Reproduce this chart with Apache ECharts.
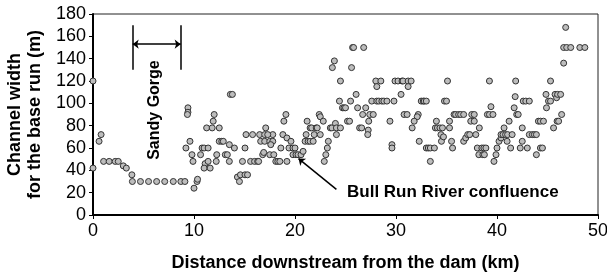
<!DOCTYPE html>
<html>
<head>
<meta charset="utf-8">
<script src="https://cdn.jsdelivr.net/npm/echarts@6/dist/echarts.min.js"></script>
<style>
  html, body { margin: 0; padding: 0; background: #fff; }
  #chart { width: 607px; height: 276px; }
</style>
</head>
<body>
<div id="chart"></div>
<script>
// Channel width for the base run (m) against distance below the dam (km),
// read off the figure reach by reach: [km, m]
const reach0to10 = [
    [0, 120], [0, 42], [0.6, 66], [0.8, 72], [1.05, 48], [1.6, 48], [2.2, 48],
    [2.5, 48], [3.0, 44], [3.3, 42], [3.85, 36], [3.9, 30], [4.7, 30], [5.5, 30],
    [6.3, 30], [7.1, 30], [7.95, 30], [8.7, 30], [9.1, 30], [9.4, 96], [9.4, 92],
    [9.35, 90], [9.2, 60], [9.6, 66], [9.8, 54], [9.9, 48]
];
const reach10to20 = [
    [10.0, 24], [10.3, 30], [10.35, 32], [10.65, 54], [10.8, 60], [11.0, 60],
    [11.4, 60], [11.1, 46], [11.4, 48], [11.0, 42], [11.6, 42], [11.25, 78],
    [11.8, 78], [12.0, 90], [11.9, 84], [12.5, 78], [12.25, 54], [12.2, 48],
    [12.5, 66], [12.75, 66], [12.9, 66], [13.1, 54], [13.3, 54], [13.5, 48],
    [13.5, 63], [14.0, 60], [13.6, 108], [13.8, 108], [14.3, 34], [14.5, 30],
    [14.6, 36], [15.05, 36], [15.3, 36], [14.8, 48], [15.05, 60], [15.15, 72],
    [15.8, 72], [16.5, 72], [17.0, 72], [17.8, 72], [15.6, 48], [16.0, 48],
    [16.3, 48], [16.4, 48], [16.6, 66], [17.0, 66], [17.5, 66], [17.8, 66],
    [17.1, 78], [17.3, 72], [16.8, 54], [16.9, 56], [17.5, 54], [17.9, 54],
    [17.6, 63], [18.1, 48], [18.3, 48], [18.5, 48], [18.6, 60], [18.8, 72],
    [18.9, 84], [19.1, 90], [19.2, 69], [19.6, 66], [19.2, 48], [19.4, 60],
    [19.8, 60], [19.8, 54]
];
const reach20to30 = [
    [20.1, 54], [20.3, 54], [20.6, 54], [20.8, 57], [20.0, 60], [21.0, 66],
    [21.3, 66], [21.5, 66], [21.8, 66], [21.1, 72], [21.9, 72], [21.2, 84],
    [21.5, 78], [21.65, 78], [22.1, 78], [22.2, 78], [22.5, 72], [22.4, 90],
    [22.5, 88], [22.8, 84], [22.9, 48], [23.05, 54], [23.2, 60], [23.3, 66],
    [23.5, 78], [23.65, 78], [24.0, 82], [24.1, 78], [24.1, 72], [23.7, 132],
    [23.9, 138], [24.5, 120], [24.4, 102], [24.7, 96], [24.85, 96], [25.0, 96],
    [25.2, 84], [25.4, 84], [25.7, 150], [25.8, 150], [26.8, 150], [25.6, 132],
    [24.5, 78], [25.5, 102], [26.05, 108], [26.2, 96], [26.7, 90], [27.0, 96],
    [26.4, 78], [26.6, 78], [27.4, 90], [27.75, 90], [27.3, 84], [27.25, 76],
    [27.2, 72], [28.0, 120], [28.5, 120], [28.1, 115], [27.6, 102], [28.1, 102],
    [28.3, 102], [28.6, 102], [28.8, 102], [29.1, 102], [29.8, 102], [29.4, 84],
    [29.6, 63], [29.6, 60], [29.9, 120]
];
const reach30to40 = [
    [30.2, 120], [30.6, 120], [30.7, 120], [31.2, 120], [31.5, 120], [30.5, 108],
    [31.2, 115], [30.8, 90], [31.1, 90], [32.2, 90], [32.1, 88], [31.8, 84],
    [31.6, 78], [32.3, 66], [32.5, 102], [32.7, 102], [32.8, 102], [33.0, 102],
    [33.0, 60], [33.2, 60], [33.4, 60], [33.8, 60], [33.4, 48], [34.0, 84],
    [33.9, 78], [34.1, 78], [34.35, 78], [34.6, 78], [34.45, 72], [34.5, 66],
    [34.7, 70], [34.8, 102], [35.0, 102], [35.1, 120], [35.3, 84], [35.3, 78],
    [35.5, 66], [35.6, 60], [35.75, 90], [35.9, 90], [36.2, 90], [36.4, 90],
    [36.7, 90], [36.7, 66], [36.9, 69], [37.1, 72], [37.5, 90], [37.75, 90],
    [37.4, 84], [37.75, 84], [37.3, 72], [37.9, 72], [38.25, 78], [38.05, 60],
    [38.2, 54], [38.5, 60], [38.7, 60], [38.9, 60], [38.6, 54], [38.75, 54],
    [39.25, 120], [39.4, 97], [39.05, 90], [39.25, 90], [39.6, 90], [39.7, 48],
    [39.9, 54]
];
const reach40to50 = [
    [40.0, 60], [40.2, 66], [40.4, 69], [40.4, 72], [40.6, 72], [40.85, 72],
    [41.05, 72], [41.5, 72], [40.7, 78], [41.2, 84], [41.0, 66], [41.35, 60],
    [41.7, 96], [41.8, 106], [41.85, 120], [41.95, 90], [42.1, 90], [42.5, 78],
    [42.5, 66], [42.3, 60], [43.0, 60], [42.6, 102], [42.85, 102], [43.2, 102],
    [43.2, 72], [43.5, 72], [43.7, 72], [43.9, 72], [43.9, 54], [44.3, 60],
    [44.5, 60], [44.1, 84], [44.3, 84], [44.6, 84], [44.9, 96], [44.85, 108],
    [45.1, 102], [45.3, 102], [45.3, 120], [45.6, 78], [45.75, 108], [45.9, 105],
    [46.0, 108], [46.3, 108], [45.95, 84], [46.1, 84], [46.4, 90], [46.6, 136],
    [46.8, 168], [46.6, 150], [46.9, 150], [47.3, 150], [48.2, 150], [48.7, 150]
];

// annotations, in data units
const gorgeEdges = [3.93, 8.68];
const gorgeBarSpan = [130, 170];
const gorgeArrowY = 153;
const confluenceArrow = [[24.1, 23], [20.35, 50.5]];

const FONT = "Arial, 'Liberation Sans', sans-serif";

const chart = echarts.init(document.getElementById("chart"), null, { renderer: "canvas" });

const widths = [].concat(reach0to10, reach10to20, reach20to30, reach30to40, reach40to50);

const lineEnd = (x, y, sym) => ({ coord: [x, y], symbol: sym });

chart.setOption({
    animation: false,
    backgroundColor: "#fff",
    grid: {
        left: 93, right: 9, top: 14, bottom: 61,
        containLabel: false, outerBoundsMode: "none",
        show: true, borderColor: "#222", borderWidth: 1
    },
    xAxis: {
        type: "value", min: 0, max: 50, interval: 10,
        name: "Distance downstream from the dam (km)",
        nameLocation: "middle", nameGap: 39,
        nameTextStyle: { fontFamily: FONT, fontSize: 18, fontWeight: "bold", color: "#000" },
        axisLine: { onZero: false, lineStyle: { color: "#000", width: 2 } },
        axisTick: { show: true, length: 4, lineStyle: { color: "#000", width: 1 } },
        axisLabel: { fontFamily: FONT, fontSize: 18, color: "#000", margin: 7 },
        splitLine: { show: false }
    },
    yAxis: {
        type: "value", min: 0, max: 180, interval: 20,
        name: "Channel width\nfor the base run (m)",
        nameLocation: "middle", nameGap: 41, nameRotate: 90,
        nameTextStyle: { fontFamily: FONT, fontSize: 18, fontWeight: "bold", color: "#000", lineHeight: 20 },
        axisLine: { onZero: false, lineStyle: { color: "#000", width: 2 } },
        axisTick: { show: true, length: 4, lineStyle: { color: "#000", width: 1 } },
        axisLabel: { fontFamily: FONT, fontSize: 18, color: "#000", margin: 7 },
        splitLine: { show: false }
    },
    series: [
        {
            type: "scatter",
            data: widths,
            symbol: "circle",
            symbolSize: 6,
            itemStyle: { color: "#bdbdbd", borderColor: "#333", borderWidth: 1, opacity: 1 },
            markLine: {
                silent: true,
                symbol: ["none", "none"],
                symbolSize: [7, 6],
                label: { show: false },
                lineStyle: { color: "#000", width: 1.5, type: "solid" },
                data: [
                    [lineEnd(gorgeEdges[0], gorgeBarSpan[0], "none"), lineEnd(gorgeEdges[0], gorgeBarSpan[1], "none")],
                    [lineEnd(gorgeEdges[1], gorgeBarSpan[0], "none"), lineEnd(gorgeEdges[1], gorgeBarSpan[1], "none")],
                    [lineEnd(gorgeEdges[0], gorgeArrowY, "arrow"), lineEnd(gorgeEdges[1], gorgeArrowY, "arrow")],
                    [lineEnd(confluenceArrow[0][0], confluenceArrow[0][1], "none"),
                     lineEnd(confluenceArrow[1][0], confluenceArrow[1][1], "arrow")]
                ]
            }
        }
    ]
});

// text labels placed through the grid's own scale
const toPx = (pt) => chart.convertToPixel({ gridIndex: 0 }, pt);
const gorgeLabelAt = toPx([6.14, 94]);
const confluenceLabelAt = toPx([25.15, 20.4]);

chart.setOption({
    graphic: [
        {
            type: "text",
            x: gorgeLabelAt[0], y: gorgeLabelAt[1],
            rotation: Math.PI / 2,
            style: {
                text: "Sandy Gorge", fill: "#000",
                font: "bold 16px " + FONT,
                textAlign: "center", textVerticalAlign: "middle"
            }
        },
        {
            type: "text",
            x: confluenceLabelAt[0], y: confluenceLabelAt[1],
            style: {
                text: "Bull Run River confluence", fill: "#000",
                font: "bold 17px " + FONT,
                textAlign: "left", textVerticalAlign: "middle"
            }
        }
    ]
});
</script>
</body>
</html>
